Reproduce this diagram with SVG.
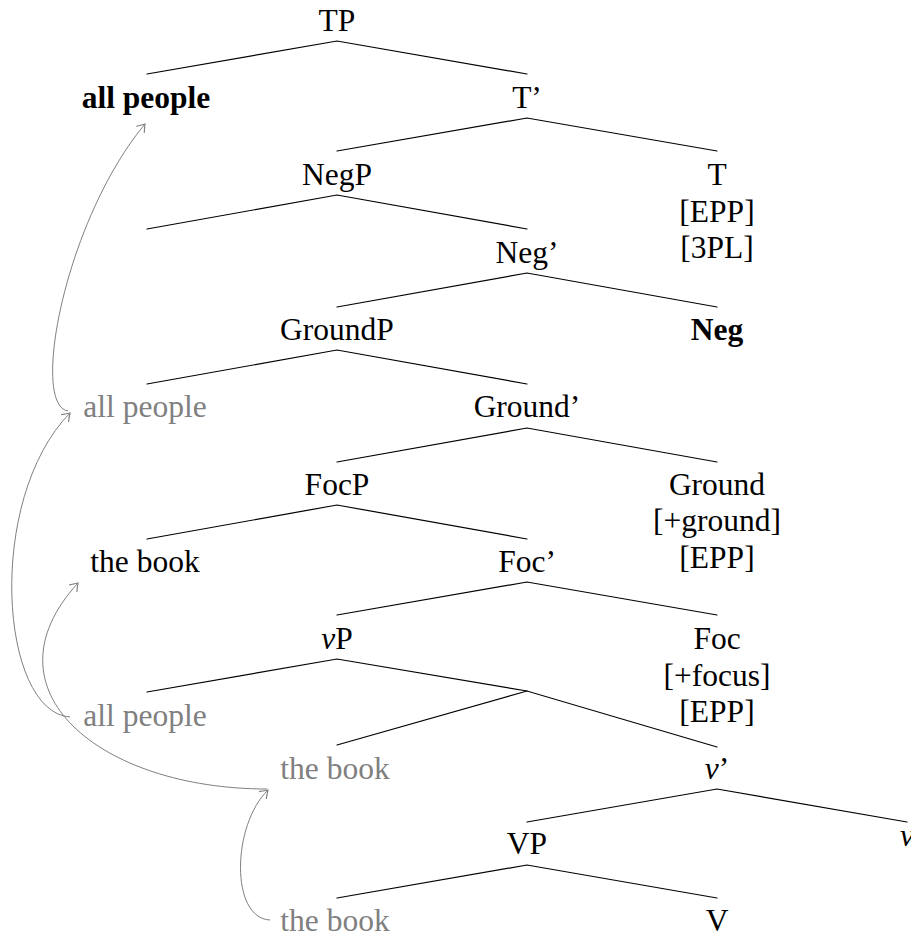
<svg xmlns="http://www.w3.org/2000/svg" width="911" height="936" viewBox="0 0 911 936" font-family="Liberation Serif, Times New Roman, Times, serif">
  <style>
    text { font-size: 31.5px; fill: #000; text-anchor: middle; }
    .b { font-weight: bold; }
    .g { fill: #808080; }
    .i { font-style: italic; }
    .edge { stroke: #000; stroke-width: 1.2; fill: none; stroke-linecap: round; }
    .move { stroke: #808080; stroke-width: 1; fill: none; marker-end: url(#head); }
  </style>
  <defs>
    <marker id="head" markerUnits="userSpaceOnUse" markerWidth="14" markerHeight="14" viewBox="-8 -6 10 12" refX="0" refY="0" orient="auto">
      <path d="M -6,-4.2 Q -2,-1.2 0,0 Q -2,1.2 -6,4.2" stroke="#808080" stroke-width="1" fill="none" stroke-linecap="round"/>
    </marker>
  </defs>

  <rect width="911" height="936" fill="#fff"/>

  <!-- tree branches -->
  <g id="edges">
    <polyline class="edge" points="147,74 337,41 527,74"/>
    <polyline class="edge" points="337,151 527,118 717,151"/>
    <polyline class="edge" points="147,229 337,195 527,229"/>
    <polyline class="edge" points="337,307 527,273 717,307"/>
    <polyline class="edge" points="147,384 337,350 527,384"/>
    <polyline class="edge" points="337,462 527,428 717,462"/>
    <polyline class="edge" points="147,539 337,505 527,539"/>
    <polyline class="edge" points="337,615 527,582 717,615"/>
    <polyline class="edge" points="147,692 337,659 527,691"/>
    <polyline class="edge" points="337,745 527,691 717,747"/>
    <polyline class="edge" points="527,822 717,789 907,822"/>
    <polyline class="edge" points="337,898 527,865 717,898"/>
  </g>

  <!-- movement arrows -->
  <g id="movement">
    <path class="move" d="M 68,411 C 30,405 65,220 145,124"/>
    <path class="move" d="M 70,717 C 0,712 -15,500 70,413"/>
    <path class="move" d="M 267,789 C 100,789 -20,690 78,583"/>
    <path class="move" d="M 270,920 C 230,918 232,825 268,790"/>
  </g>

  <g id="TP"><text x="337" y="31">TP</text></g>
  <g id="spec-TP"><text class="b" x="146" y="108">all people</text></g>
  <g id="Tbar"><text x="527" y="108">T’</text></g>
  <g id="NegP"><text x="337" y="185">NegP</text></g>
  <g id="T">
    <text x="717" y="185">T</text>
    <text x="717" y="222">[EPP]</text>
    <text x="717" y="258">[3PL]</text>
  </g>
  <g id="Negbar"><text x="527" y="263">Neg’</text></g>
  <g id="GroundP"><text x="337" y="340">GroundP</text></g>
  <g id="Neg"><text class="b" x="717" y="340">Neg</text></g>
  <g id="spec-GroundP"><text class="g" x="145" y="417">all people</text></g>
  <g id="Groundbar"><text x="527" y="417">Ground’</text></g>
  <g id="FocP"><text x="337" y="495">FocP</text></g>
  <g id="Ground">
    <text x="717" y="495">Ground</text>
    <text x="717" y="531">[+ground]</text>
    <text x="717" y="568">[EPP]</text>
  </g>
  <g id="spec-FocP"><text x="145" y="572">the book</text></g>
  <g id="Focbar"><text x="527" y="572">Foc’</text></g>
  <g id="vP"><text x="337" y="649"><tspan class="i">v</tspan>P</text></g>
  <g id="Foc">
    <text x="717" y="649">Foc</text>
    <text x="717" y="686">[+focus]</text>
    <text x="717" y="722">[EPP]</text>
  </g>
  <g id="spec-vP"><text class="g" x="145" y="726">all people</text></g>
  <g id="outer-spec-vP"><text class="g" x="335" y="779">the book</text></g>
  <g id="vbar"><text x="717" y="779"><tspan class="i">v</tspan>’</text></g>
  <g id="VP"><text x="527" y="854">VP</text></g>
  <g id="v"><text class="i" x="907" y="846">v</text></g>
  <g id="object"><text class="g" x="335" y="931">the book</text></g>
  <g id="V"><text x="717" y="931">V</text></g>
</svg>
